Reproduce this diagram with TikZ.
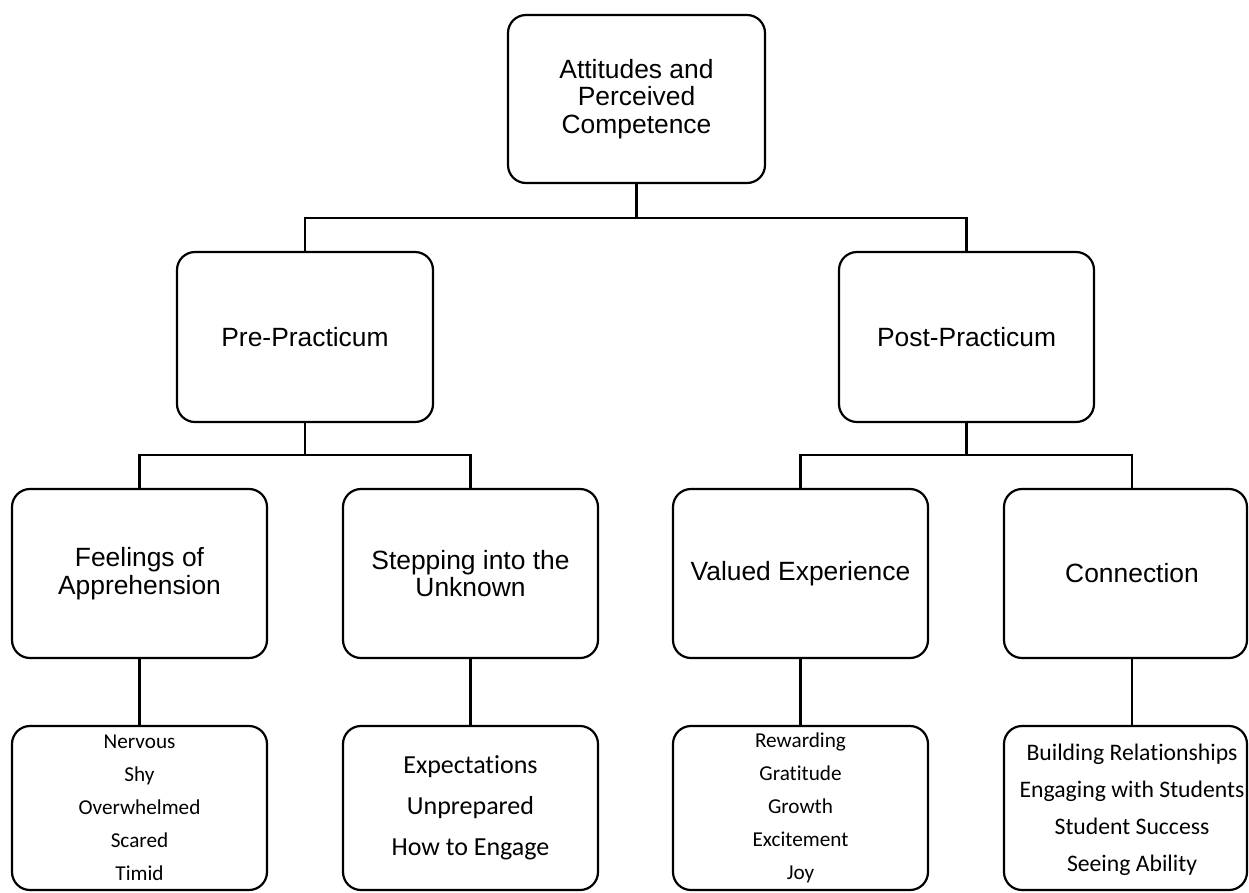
\documentclass[tikz,border=0pt]{standalone}
\usepackage{fontspec}
\setmainfont{Liberation Sans}
\newfontfamily\calib[Ligatures=NoCommon]{Carlito}

\begin{document}
\begin{tikzpicture}[x=1pt,y=-1pt,
  line width=2.2pt, line join=miter,
  box/.style={draw=black, line width=2.2pt, rounded corners=18pt, fill=white,
    align=center, inner sep=0pt},
  head/.style={box, font=\fontsize{26.4}{27.5}\selectfont},
  plain/.style={align=center, inner sep=0pt},
  small/.style={font=\calib\fontsize{21.2}{33}\selectfont},
]
\useasboundingbox (0,0) rectangle (1249,892);

% level 1
\node[head, minimum width=257, minimum height=168] (root) at (636.5,99)
  {Attitudes and\\Perceived\\Competence};

% level 2
\node[head, minimum width=256, minimum height=170] (pre)  at (305,337) {Pre-Practicum};
\node[head, minimum width=255, minimum height=170] (post) at (966.5,337) {Post-Practicum};

% level 3
\node[head, minimum width=255, minimum height=169] (feel) at (139.5,573.5) {Feelings of\\Apprehension};
\node[head, minimum width=255, minimum height=169] (step) at (470.5,573.5) {Stepping into the\\Unknown};
\node[head, minimum width=255, minimum height=169] (valu) at (800.5,573.5) {Valued Experience};
\node[box,  minimum width=243, minimum height=169] (conn) at (1125.5,573.5) {};
\node[plain, font=\fontsize{26.4}{27.5}\selectfont] (conntxt) at (1132,573.5) {Connection};

% level 4
\node[box, small, minimum width=255, minimum height=164] (feelsub) at (139.5,808)
  {Nervous\\Shy\\Overwhelmed\\Scared\\Timid};
\node[box, font=\calib\fontsize{26}{41}\selectfont, minimum width=255, minimum height=164] (stepsub) at (470.5,808)
  {Expectations\\Unprepared\\How to Engage};
\node[box, small, minimum width=255, minimum height=164] (valusub) at (800.5,808)
  {Rewarding\\Gratitude\\Growth\\Excitement\\Joy};
\node[box, minimum width=243, minimum height=164] (connsub) at (1125.5,808) {};
\node[plain, font=\calib\fontsize{23.7}{37}\selectfont] (connsubtxt) at (1132,810)
  {Building Relationships\\Engaging with Students\\Student Success\\Seeing Ability};

% connectors
\coordinate (bus1) at (636.5,218);
\coordinate (bus2a) at (305,455);
\coordinate (bus2b) at (966.5,455);

\draw (root.south) -- (bus1);
\draw (pre.north) |- (bus1) -| (post.north);

\draw (pre.south) -- (bus2a);
\draw (feel.north) |- (bus2a) -| (step.north);

\draw (post.south) -- (bus2b);
\draw (valu.north) |- (bus2b) -| (conntxt |- conn.north);

\draw (feel.south) -- (feelsub.north);
\draw (step.south) -- (stepsub.north);
\draw (valu.south) -- (valusub.north);
\draw (conntxt |- conn.south) -- (conntxt |- connsub.north);
\end{tikzpicture}
\end{document}
